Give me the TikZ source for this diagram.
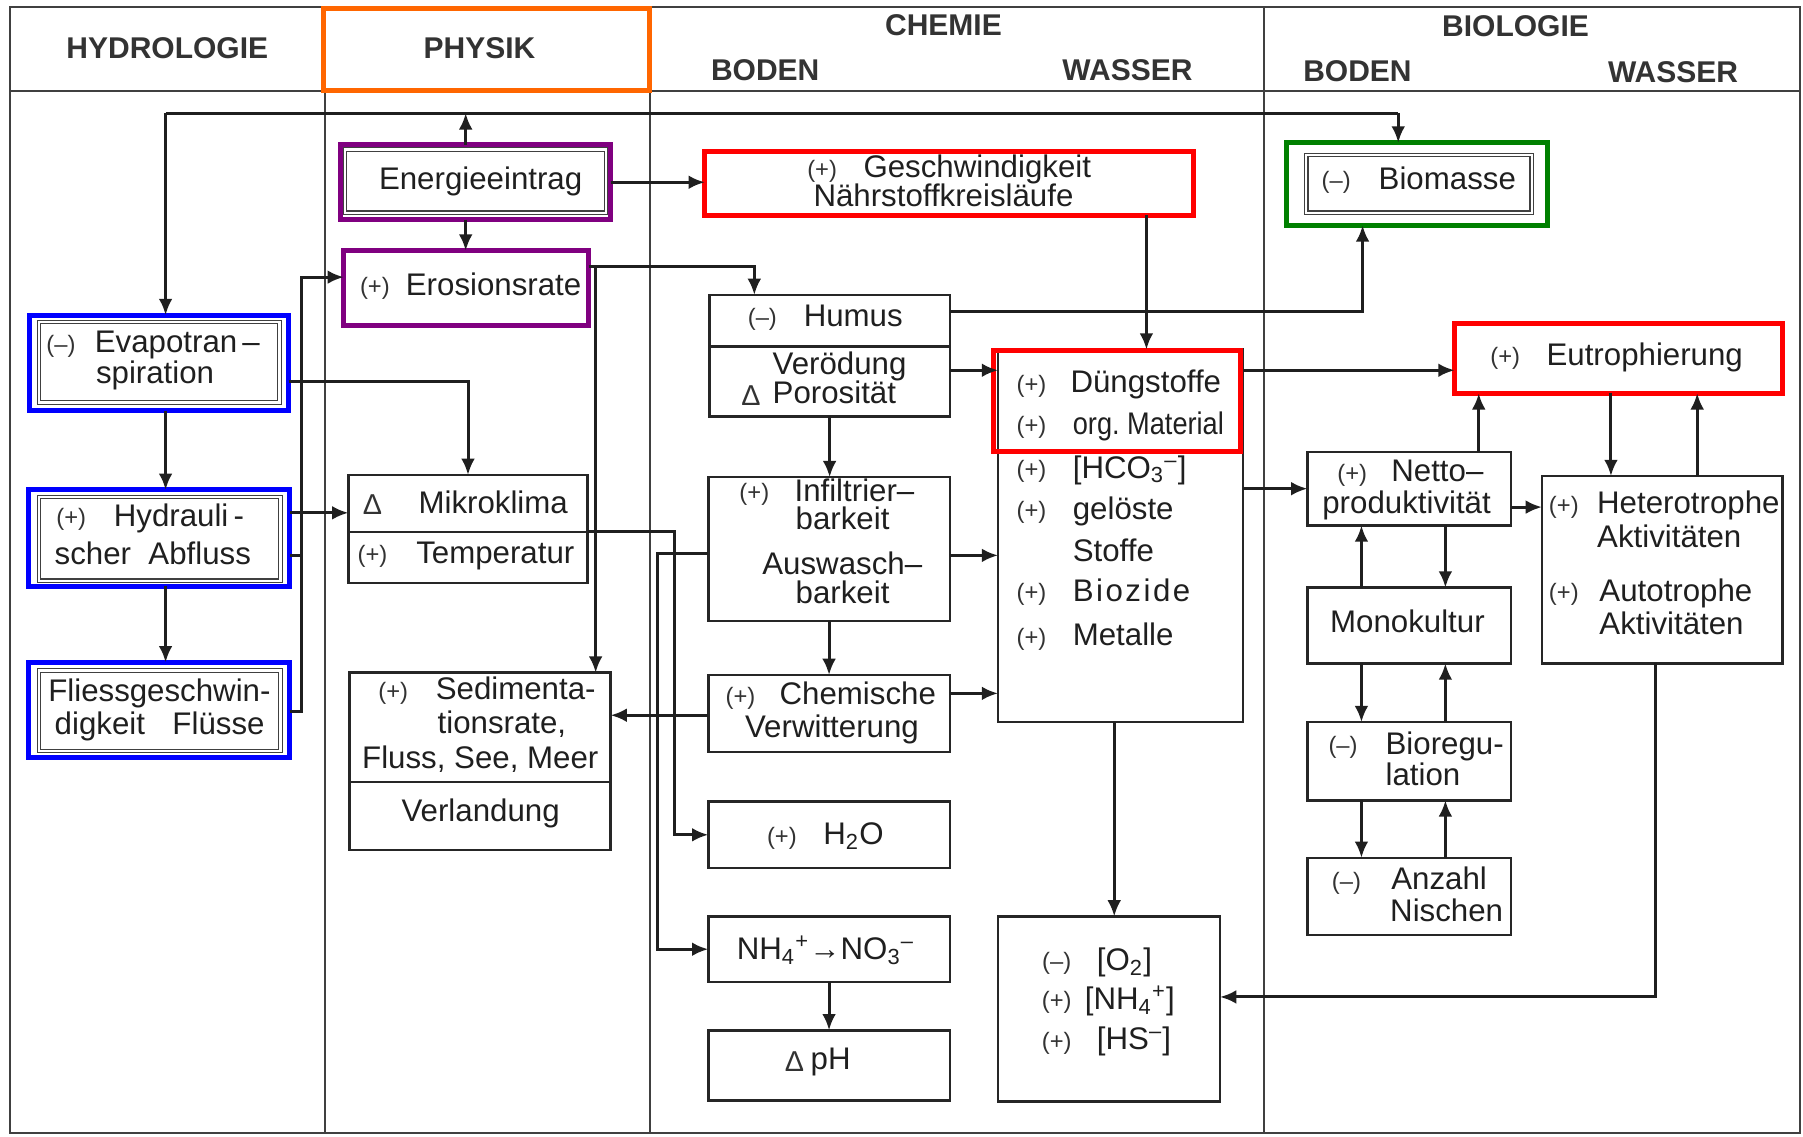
\documentclass[tikz,border=0pt]{standalone}
\usepackage{fontspec}
\usepackage{graphicx}
\setmainfont{Liberation Sans}
\usetikzlibrary{calc,arrows.meta}
\definecolor{hlorange}{RGB}{255,102,0}
\definecolor{hlpurple}{RGB}{128,0,128}
\definecolor{hlblue}{RGB}{0,0,255}
\definecolor{hlred}{RGB}{255,0,0}
\definecolor{hlgreen}{RGB}{0,128,0}
\newcommand\mkbox[6][]{\node[bxs,#1,minimum width={(#5-#3)*0.46pt},minimum height={(#6-#4)*0.46pt}] (#2) at ({(#3+#5)/2},{(#4+#6)/2}) {};}
\newcommand\dlt{{\fontsize{11.5}{12}\selectfont Δ}}
\begin{document}
\begin{tikzpicture}[x=0.46pt,y=-0.46pt,
  ln/.style={line width=1.2pt, draw=black!88},
  arr/.style={ln, -{Latex[length=6.5pt,width=5.5pt]}},
  frm/.style={line width=0.8pt, draw=black!75},
  bxs/.style={draw=black!85, line width=1pt, rectangle, inner sep=0pt, outer sep=0pt},
  divl/.style={draw=black!85, line width=1pt},
  hl/.style={line width=2pt},
  dbl/.style={draw=black!75, line width=0.45pt, double=white, double distance=0.9pt},
  txt/.style={inner sep=0pt, outer sep=0pt, font=\fontsize{12.5}{14}\selectfont, text=black!88},
  sgn/.style={inner sep=0pt, outer sep=0pt, font=\fontsize{9.5}{11}\selectfont, text=black!80},
  hdr/.style={inner sep=0pt, font=\fontsize{12}{14}\selectfont\bfseries, text=black!80},
  tw/.style={txt, anchor=mid west},
  tc/.style={txt, anchor=mid},
]
\useasboundingbox (0,0) rectangle (1568,988);
% frame
\draw[frm] (9,6) rectangle (1565,985);
\draw[frm] (9,79) -- (1565,79);
\draw[frm] (283,6) -- (283,985);
\draw[frm] (565,6) -- (565,985);
\draw[frm] (1099,6) -- (1099,985);
% headers
\node[hdr] (hHyd) at (145.5,42) {HYDROLOGIE};
\node[hdr] (hPhy) at (417,42) {PHYSIK};
\node[hdr] (hChe) at (820.5,22) {CHEMIE};
\node[hdr] (hCBo) at (665.5,61) {BODEN};
\node[hdr] (hCWa) at (980.5,61) {WASSER};
\node[hdr] (hBio) at (1318,23) {BIOLOGIE};
\node[hdr] (hBBo) at (1180.5,62) {BODEN};
\node[hdr] (hBWa) at (1455,63) {WASSER};
% highlighted boxes
\mkbox[draw=hlorange,hl]{phys}{281}{7}{565}{79}
\mkbox[draw=hlpurple,hl]{energ}{296}{126}{531}{191}
\draw[dbl] ([shift={(4,4)}]energ.north west) rectangle ([shift={(-4,-6)}]energ.south east);
\mkbox[draw=hlpurple,hl]{eros}{299}{218}{512}{283}
\mkbox[draw=hlred,hl]{gesch}{613}{132}{1038}{187}
\mkbox[draw=hlgreen,hl]{biom}{1119}{124}{1346}{196}
\draw[dbl] ([shift={(17,11)}]biom.north west) rectangle ([shift={(-14,-11)}]biom.south east);
\mkbox[draw=hlblue,hl]{evapo}{26}{274}{251}{357}
\draw[dbl] ([shift={(8,6)}]evapo.north west) rectangle ([shift={(-8,-7)}]evapo.south east);
\mkbox[draw=hlblue,hl]{hydr}{25}{426}{252}{510}
\draw[dbl] ([shift={(9,6)}]hydr.north west) rectangle ([shift={(-8,-5)}]hydr.south east);
\mkbox[draw=hlblue,hl]{fliess}{25}{576}{252}{659}
\draw[dbl] ([shift={(9,7)}]fliess.north west) rectangle ([shift={(-8,-6)}]fliess.south east);
% plain boxes
\mkbox{mikro}{303}{413}{511}{507}
\draw[divl] ($(mikro.north west)+(0,49.5)$) -- ($(mikro.north east)+(0,49.5)$);
\mkbox{sedi}{304}{585}{531}{739}
\draw[divl] ($(sedi.north west)+(0,95)$) -- ($(sedi.north east)+(0,95)$);
\mkbox{humus}{617}{256.5}{826}{362}
\draw[divl] ($(humus.north west)+(0,45)$) -- ($(humus.north east)+(0,45)$);
\mkbox{infil}{616}{415}{826}{540}
\mkbox{chemv}{616}{587}{826}{654}
\mkbox{hwo}{616}{697}{826}{755}
\mkbox{nh}{616}{797}{826}{854}
\mkbox{ph}{616}{896}{826}{957}
\mkbox{chw}{868}{304}{1081}{628}
\mkbox{otwo}{868}{797}{1061}{958}
\mkbox{netto}{1137}{393}{1314}{457}
\mkbox{hetero}{1341}{414}{1550}{577}
\mkbox{mono}{1137}{511}{1314}{577}
\mkbox{biore}{1137}{628}{1314}{696}
\mkbox{anz}{1137}{746}{1314}{813}
\mkbox[draw=hlred,hl]{duen}{864}{305}{1079}{393}
\mkbox[draw=hlred,hl]{eutro}{1265}{281}{1550}{342}
% connectors
\coordinate (busL) at (144,98.5);
\coordinate (busR) at (1216,98.5);
\coordinate (busE) at (405,98.5);
\draw[ln] (busL) -- (busR);
\draw[arr] (busL) -- (busL |- evapo.north);
\draw[arr] (busR) -- (busR |- biom.north);
\draw[arr] (busE |- energ.north) -- (busE);
\draw[arr] (busE |- energ.south) -- (busE |- eros.north);
\draw[arr] (energ.east) -- (energ.east -| gesch.west);
\coordinate (gd) at ($(gesch.south west)+(384,0)$);
\draw[arr] (gd) -- (gd |- chw.north);
\coordinate (hb) at ($(humus.north east)+(0,14.5)$);
\coordinate (bb) at ($(biom.south west)+(66,0)$);
\draw[arr] (hb) -| (bb);
\coordinate (eh) at ($(eros.north east)+(0,14)$);
\coordinate (ht) at ($(humus.north west)+(39,0)$);
\draw[arr] (eh) -| (ht);
\coordinate (es) at ($(eros.north east)+(6,14)$);
\draw[arr] (es) -- (es |- sedi.north);
\coordinate (em) at ($(evapo.south east)+(0,-25)$);
\draw[arr] (em) -| (mikro.north);
\draw[arr] (busL |- evapo.south) -- (busL |- hydr.north);
\draw[arr] (busL |- hydr.south) -- (busL |- fliess.north);
\coordinate (hm) at ($(mikro.north west)+(0,33)$);
\draw[arr] (hm -| hydr.east) -- (hm);
\coordinate (lb) at ($(eros.north west)+(-37,23)$);
\draw[arr] ($(fliess.east)+(0,1.5)$) -| (lb) -- (lb -| eros.west);
\draw[ln] ($(hydr.south east)+(0,-27)$) -- ++(10,0);
\coordinate (mh) at ($(mikro.east)+(0,2.5)$);
\coordinate (vx1) at ($(hwo.west)+(-29,0)$);
\draw[arr] (mh) -| (vx1) -- (hwo.west);
\coordinate (in1) at ($(infil.west)+(0,3.5)$);
\coordinate (vx2) at ($(nh.west)+(-44,0)$);
\draw[arr] (in1) -| (vx2) -- (nh.west);
\coordinate (cs) at ($(chemv.west)+(0,1.5)$);
\draw[arr] (cs) -- (cs -| sedi.east);
\coordinate (hc) at ($(humus.south east)+(0,-40)$);
\draw[arr] (hc) -- (hc -| chw.west);
\draw[arr] (humus.south) -- (humus.south |- infil.north);
\coordinate (ic) at ($(infil.east)+(0,5.5)$);
\draw[arr] (ic) -- (ic -| chw.west);
\draw[arr] (infil.south) -- (chemv.north);
\coordinate (cc) at ($(chemv.north east)+(0,16)$);
\draw[arr] (cc) -- (cc -| chw.west);
\draw[arr] (nh.south) -- (ph.north);
\coordinate (co) at ($(chw.south west)+(101,0)$);
\draw[arr] (co) -- (co |- otwo.north);
\coordinate (ce) at ($(chw.north east)+(0,18)$);
\draw[arr] (ce) -- (ce -| eutro.west);
\draw[arr] (netto.west -| chw.east) -- (netto.west);
\coordinate (ne) at ($(netto.north west)+(149,0)$);
\draw[arr] (ne) -- (ne |- eutro.south);
\coordinate (nt) at ($(netto.east)+(0,16)$);
\draw[arr] (nt) -- (nt -| hetero.west);
\coordinate (eh1) at ($(hetero.north west)+(60,0)$);
\draw[arr] (eh1 |- eutro.south) -- (eh1);
\coordinate (eh2) at ($(hetero.north west)+(135,0)$);
\draw[arr] (eh2) -- (eh2 |- eutro.south);
\coordinate (ho) at ($(hetero.south west)+(99,0)$);
\coordinate (oe) at ($(otwo.east)+(0,-10.5)$);
\draw[arr] (ho) |- (oe);
\draw[arr] ($(mono.north west)+(47,0)$) -- ($(netto.south west)+(47,0)$);
\draw[arr] ($(netto.south west)+(120,0)$) -- ($(mono.north west)+(120,0)$);
\draw[arr] ($(mono.south west)+(47,0)$) -- ($(biore.north west)+(47,0)$);
\draw[arr] ($(biore.north west)+(120,0)$) -- ($(mono.south west)+(120,0)$);
\draw[arr] ($(biore.south west)+(47,0)$) -- ($(anz.north west)+(47,0)$);
\draw[arr] ($(anz.north west)+(120,0)$) -- ($(biore.south west)+(120,0)$);
% texts
\node[tc] (tEn) at (418,159) {Energieeintrag};
\node[sgn] (sEr) at (326,251) {(+)};
\node[tw] (tEr) at (353,251) {Erosionsrate};
\node[sgn] (sGe) at (715,149) {(+)};
\node[tw] (tGe) at (751,149) {Geschwindigkeit};
\node[tc] (tNa) at (820.5,174) {Nährstoffkreisläufe};
\node[sgn] (sBi) at (1162,159) {(–)};
\node[tw] (tBi) at (1199,159) {Biomasse};
\node[sgn] (sEv) at (53,301) {(–)};
\node[tw] (tEv) at (82.5,301) {Evapotran\,–};
\node[tw] (tEv2) at (83.5,327.5) {spiration};
\node[sgn] (sHy) at (62,452) {(+)};
\node[tw] (tHy) at (99,452) {Hydrauli\,-};
\node[tw] (tHy2) at (47.6,485) {scher\ \ Abfluss};
\node[tw] (tFl) at (42,604) {Fliessgeschwin-};
\node[tw] (tFl2) at (47.6,633) {digkeit};
\node[tw] (tFl3) at (150,633) {Flüsse};
\node[sgn] (sMi) at (324,439) {\dlt};
\node[tw] (tMi) at (364,441) {Mikroklima};
\node[sgn] (sTe) at (324,484) {(+)};
\node[tw] (tTe) at (362,484) {Temperatur};
\node[sgn] (sSe) at (342,603) {(+)};
\node[tw] (tSe) at (379,603) {Sedimenta-};
\node[tw] (tSe2) at (380.6,632) {tionsrate,};
\node[tw] (tSe3) at (315,662.5) {Fluss,\ See,\ Meer};
\node[tc] (tVe) at (418,709) {Verlandung};
\node[sgn] (sHu) at (663,278) {(–)};
\node[tw] (tHu) at (699,278) {Humus};
\node[tw] (tVo) at (672,320) {Verödung};
\node[sgn] (sPo) at (653,344) {\dlt};
\node[tw] (tPo) at (672,345) {Porosität};
\node[sgn] (sIn) at (656,430) {(+)};
\node[tw] (tIn) at (691,430) {Infiltrier–};
\node[tw] (tIn2) at (692,455) {barkeit};
\node[tw] (tAu) at (663,494) {Auswasch–};
\node[tw] (tAu2) at (692,519) {barkeit};
\node[sgn] (sCh) at (644,607) {(+)};
\node[tw] (tCh) at (678,607) {Chemische};
\node[tw] (tCh2) at (648,636) {Verwitterung};
\node[sgn] (sH2) at (680,729) {(+)};
\node[tw] (tH2) at (716,729) {H\textsubscript{2}O};
\node[tc] (tNH) at (718,829) {NH\textsubscript{4}\textsuperscript{+}→NO\textsubscript{3}\textsuperscript{–}};
\node[sgn] (sPH) at (691,923) {\dlt};
\node[tw] (tPH) at (705,924) {pH};
\node[sgn] (sD1) at (897,336) {(+)};
\node[tw] (tD1) at (931,336) {Düngstoffe};
\node[sgn] (sD2) at (897,372) {(+)};
\node[tw] (tD2) at (933,372) {\scalebox{0.87}[1]{org.\ Material}};
\node[sgn] (sD3) at (897,410) {(+)};
\node[tw] (tD3) at (933,410) {[HCO\textsubscript{3}\textsuperscript{–}]};
\node[sgn] (sD4) at (897,446) {(+)};
\node[tw] (tD4) at (933,446) {gelöste};
\node[tw] (tD5) at (933,483) {Stoffe};
\node[sgn] (sD6) at (897,517) {(+)};
\node[tw] (tD6) at (933,517) {\addfontfeature{LetterSpace=8}Biozide};
\node[sgn] (sD7) at (897,556) {(+)};
\node[tw] (tD7) at (933,556) {Metalle};
\node[sgn] (sO1) at (919,838) {(–)};
\node[tw] (tO1) at (954,838) {[O\textsubscript{2}]};
\node[sgn] (sO2) at (919,872) {(+)};
\node[tw] (tO2) at (943.5,872) {[NH\textsubscript{4}\textsuperscript{+}]};
\node[sgn] (sO3) at (919,907) {(+)};
\node[tw] (tO3) at (954,907) {[HS\textsuperscript{–}]};
\node[sgn] (sEu) at (1309,312) {(+)};
\node[tw] (tEu) at (1345,312) {Eutrophierung};
\node[sgn] (sNe) at (1176,413) {(+)};
\node[tw] (tNe) at (1210,413) {Netto–};
\node[tw] (tNe2) at (1150,441) {produktivität};
\node[sgn] (sHe) at (1360,441) {(+)};
\node[tw] (tHe) at (1389,441) {Heterotrophe};
\node[tw] (tHe2) at (1389,470) {Aktivitäten};
\node[sgn] (sAt) at (1360,517) {(+)};
\node[tw] (tAt) at (1391,517) {Autotrophe};
\node[tw] (tAt2) at (1391,546) {Aktivitäten};
\node[tc] (tMo) at (1224,544) {Monokultur};
\node[sgn] (sBr) at (1168,650) {(–)};
\node[tw] (tBr) at (1205,650) {Bioregu-};
\node[tw] (tBr2) at (1205,677) {lation};
\node[sgn] (sAn) at (1171,768) {(–)};
\node[tw] (tAn) at (1210,768) {Anzahl};
\node[tw] (tAn2) at (1209,796) {Nischen};
\end{tikzpicture}
\end{document}
